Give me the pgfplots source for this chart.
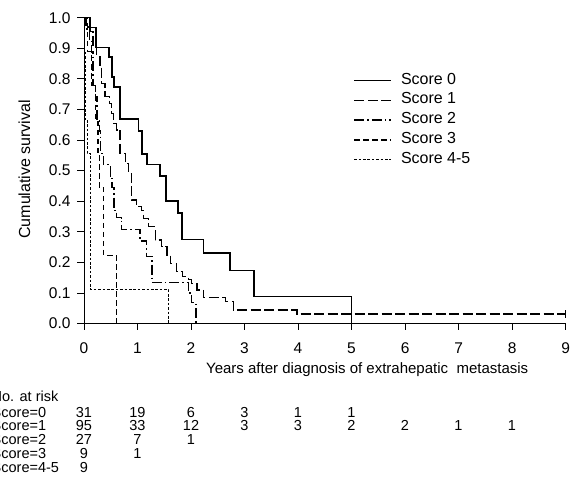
\documentclass[border=0pt]{standalone}
\usepackage{fontspec}
\setmainfont{Liberation Sans}
\usepackage{pgfplots}
\pgfplotsset{compat=1.18}

\begin{document}
\begin{tikzpicture}
\useasboundingbox (0bp,0bp) rectangle (578bp,494bp);
\begin{axis}[
  at={(84bp,170.5bp)}, anchor=south west,
  scale only axis, width=481.6bp, height=305.8bp,
  xmin=0, xmax=9, ymin=0, ymax=1,
  axis x line=bottom, axis y line=left,
  axis line style={-, line width=0.8bp},
  tick align=outside, major tick length=6.5bp,
  tick style={line width=0.8bp, black},
  xtick={0,1,2,3,4,5,6,7,8,9},
  ytick={0,0.1,0.2,0.3,0.4,0.5,0.6,0.7,0.8,0.9,1.0},
  /pgf/number format/assume math mode=true,
  ticklabel style={font=\fontsize{15.5bp}{18bp}\selectfont},
  xticklabel style={anchor=base, yshift=-23.3bp},
  yticklabel style={anchor=east, inner xsep=0pt, xshift=-6.8bp,
    /pgf/number format/.cd, fixed, fixed zerofill, precision=1},
  xlabel={Years after diagnosis of extrahepatic\ \ metastasis},
  ylabel={Cumulative survival},
  xlabel style={at={(axis description cs:0.588,-0.1651)}, anchor=base,
    font=\fontsize{15bp}{18bp}\selectfont},
  ylabel style={at={(axis description cs:-0.1121,0.504)}, anchor=base,
    font=\fontsize{16bp}{19bp}\selectfont},
  legend image code/.code={\draw[#1] (0bp,0bp) -- (37bp,0bp);},
  legend style={draw=none, fill=none, inner sep=0pt,
    at={(axis description cs:0.5592,0.8208)},
    anchor=north west, font=\fontsize{16bp}{19bp}\selectfont,
    row sep=4bp, column sep=9bp,
    nodes={inner sep=0pt, text height=11.5bp, text depth=4.3bp}},
  legend cell align=left,
  clip=false,
]
\addplot[const plot, black, line width=1.5bp] coordinates {
  (0,1) (0.11,0.968) (0.22,0.903) (0.47,0.871) (0.52,0.806) (0.56,0.774)
  (0.67,0.668) (1.02,0.630) (1.08,0.555) (1.18,0.520) (1.42,0.482)
  (1.53,0.400) (1.76,0.361) (1.83,0.275) (2.23,0.230) (2.73,0.173)
  (3.18,0.088) (5.00,0)
};
\addlegendentry{Score 0}
\addplot[const plot, black, line width=1.3bp, dash pattern=on 10bp off 3.5bp] coordinates {
  (0,1) (0.04,0.970) (0.11,0.954) (0.17,0.905) (0.24,0.872) (0.30,0.840)
  (0.33,0.785) (0.39,0.742) (0.47,0.720) (0.52,0.687) (0.55,0.655)
  (0.61,0.633) (0.67,0.557) (0.77,0.524) (0.83,0.491) (0.89,0.404)
  (0.98,0.382) (1.08,0.370) (1.11,0.344) (1.20,0.317) (1.33,0.273)
  (1.45,0.251) (1.55,0.224) (1.61,0.197) (1.73,0.169) (1.84,0.153)
  (1.95,0.145) (2.01,0.131) (2.11,0.110) (2.23,0.084) (2.64,0.071)
  (2.79,0.044) (3.98,0.031) (9.00,0.031)
};
\addlegendentry{Score 1}
\addplot[const plot, black, line width=1.4bp, dash pattern=on 10bp off 3bp on 1.5bp off 3bp] coordinates {
  (0,1) (0.05,0.963) (0.10,0.926) (0.14,0.889) (0.17,0.778) (0.21,0.741)
  (0.24,0.667) (0.29,0.630) (0.31,0.556) (0.36,0.519) (0.49,0.481)
  (0.52,0.444) (0.56,0.370) (0.61,0.346) (0.70,0.308) (1.05,0.270)
  (1.17,0.220) (1.27,0.135) (1.95,0.100) (2.01,0.068) (2.09,0)
};
\addlegendentry{Score 2}
\addplot[const plot, black, line width=1.4bp, dash pattern=on 5.5bp off 3.5bp] coordinates {
  (0,1) (0.07,0.889) (0.14,0.778) (0.22,0.667) (0.26,0.556) (0.29,0.444)
  (0.37,0.222) (0.61,0)
};
\addlegendentry{Score 3}
\addplot[const plot, black, line width=0.9bp, dash pattern=on 2.6bp off 1.8bp] coordinates {
  (0,1) (0.01,0.889) (0.02,0.667) (0.06,0.556) (0.12,0.111) (1.58,0)
};
\addlegendentry{Score 4-5}
\addplot[black, line width=0.8bp, forget plot] coordinates {(9,0.018) (9,0.045)};
\end{axis}

\begin{scope}[font=\fontsize{14.5bp}{16bp}\selectfont]
\node[anchor=base west, inner sep=0pt] at (-8.5bp,92bp) {No. at risk};
\node[anchor=base west, inner sep=0pt] at (-8.5bp,76bp) {Score=0};
\node[anchor=base west, inner sep=0pt] at (-8.5bp,63bp) {Score=1};
\node[anchor=base west, inner sep=0pt] at (-8.5bp,49bp) {Score=2};
\node[anchor=base west, inner sep=0pt] at (-8.5bp,36bp) {Score=3};
\node[anchor=base west, inner sep=0pt] at (-8.5bp,22bp) {Score=4-5};
\foreach \n [count=\k from 0] in {31,19,6,3,1,1}
  \node[anchor=base, inner sep=0pt] at ({84bp+53.5bp*\k},76bp) {\n};
\foreach \n [count=\k from 0] in {95,33,12,3,3,2,2,1,1}
  \node[anchor=base, inner sep=0pt] at ({84bp+53.5bp*\k},63bp) {\n};
\foreach \n [count=\k from 0] in {27,7,1}
  \node[anchor=base, inner sep=0pt] at ({84bp+53.5bp*\k},49bp) {\n};
\foreach \n [count=\k from 0] in {9,1}
  \node[anchor=base, inner sep=0pt] at ({84bp+53.5bp*\k},36bp) {\n};
\node[anchor=base, inner sep=0pt] at (84bp,22bp) {9};
\end{scope}
\end{tikzpicture}
\end{document}
